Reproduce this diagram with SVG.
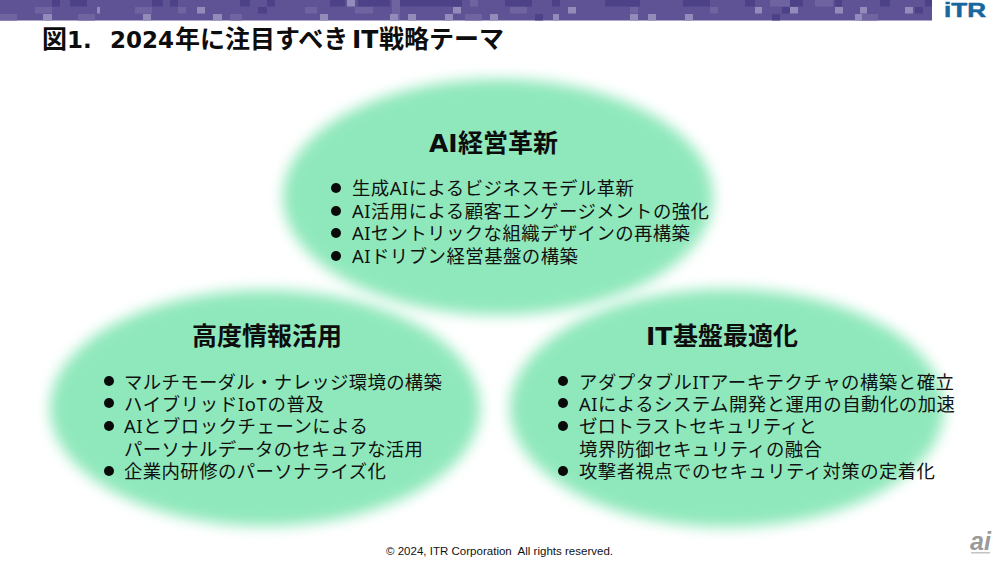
<svg xmlns="http://www.w3.org/2000/svg" width="1000" height="562" viewBox="0 0 1000 562">
<style>
text{font-family:"Noto Sans","Noto Sans CJK JP",sans-serif;fill:#000}
.t{font-family:"DejaVu Sans","Noto Sans CJK JP",sans-serif;font-weight:700;fill:#0d0d0d;font-size:25px}
.h{font-size:25px;font-weight:700;font-family:"DejaVu Sans","Noto Sans CJK JP",sans-serif;fill:#0d0d0d}
.i{font-size:18.4px;font-family:"Noto Sans","Noto Sans CJK JP",sans-serif;fill:#111}
.e{fill:#8fe8bb;filter:url(#b)}
.d{fill:#4d4287}.l{fill:#938cba}.m{fill:#6f649f}
.bu{fill:#0a0a0a}
</style>
<defs><filter id="b" x="-10%" y="-15%" width="120%" height="130%"><feGaussianBlur stdDeviation="7"/></filter></defs>
<rect width="1000" height="562" fill="#fff"/>
<g id="banner">
<rect width="932" height="20.5" fill="#5f5396"/>
<g class="d">
<rect x="52" y="0" width="8" height="6.5"/><rect x="70" y="0" width="17" height="6.5"/><rect x="152" y="0" width="11" height="6.5"/><rect x="170" y="0" width="8" height="6.5"/><rect x="240" y="0" width="10" height="6.5"/><rect x="267" y="0" width="8" height="6.5"/><rect x="330" y="0" width="15" height="6.5"/><rect x="358" y="0" width="32" height="6.5"/><rect x="400" y="0" width="62" height="6.5"/><rect x="505" y="0" width="27" height="6.5"/><rect x="552" y="0" width="8" height="6.5"/><rect x="605" y="0" width="35" height="6.5"/><rect x="683" y="0" width="27" height="6.5"/><rect x="745" y="0" width="10" height="6.5"/><rect x="790" y="0" width="13" height="6.5"/><rect x="835" y="0" width="7" height="6.5"/><rect x="880" y="0" width="10" height="6.5"/><rect x="925" y="0" width="7" height="6.5"/>
<rect x="258" y="7" width="9" height="6.5"/><rect x="772" y="14" width="8" height="6.5"/><rect x="535" y="14" width="8" height="6.5"/><rect x="782" y="7" width="8" height="6.5"/><rect x="915" y="7" width="8" height="6.5"/>
</g>
<g class="m">
<rect x="0" y="14" width="17" height="6.5"/><rect x="35" y="7" width="17" height="6.5"/><rect x="78" y="14" width="17" height="6.5"/><rect x="135" y="7" width="17" height="6.5"/><rect x="178" y="7" width="8" height="6.5"/><rect x="230" y="14" width="12" height="6.5"/><rect x="305" y="7" width="12" height="6.5"/><rect x="355" y="7" width="18" height="6.5"/><rect x="392" y="0" width="8" height="20"/><rect x="470" y="0" width="8" height="6.5"/><rect x="465" y="14" width="17" height="6.5"/><rect x="510" y="7" width="17" height="6.5"/><rect x="630" y="7" width="8" height="6.5"/><rect x="710" y="7" width="8" height="6.5"/><rect x="770" y="0" width="20" height="6.5"/><rect x="815" y="0" width="18" height="6.5"/><rect x="860" y="14" width="18" height="6.5"/>
</g>
<g class="l">
<rect x="347" y="0" width="8" height="6.5"/><rect x="97" y="7" width="3" height="6.5"/><rect x="197" y="7" width="8" height="6.5"/><rect x="43" y="14" width="9" height="6.5"/><rect x="143" y="14" width="8" height="6.5"/><rect x="213" y="14" width="9" height="6.5"/><rect x="320" y="14" width="8" height="6.5"/><rect x="390" y="14" width="8" height="6.5"/><rect x="408" y="14" width="8" height="6.5"/><rect x="445" y="14" width="8" height="6.5"/><rect x="453" y="7" width="8" height="6.5"/><rect x="490" y="14" width="8" height="6.5"/><rect x="568" y="7" width="8" height="6.5"/><rect x="755" y="7" width="7" height="6.5"/><rect x="790" y="7" width="8" height="6.5"/><rect x="835" y="7" width="8" height="6.5"/><rect x="860" y="7" width="7" height="6.5"/><rect x="905" y="7" width="8" height="6.5"/><rect x="553" y="14" width="6" height="6.5"/><rect x="630" y="14" width="8" height="6.5"/><rect x="648" y="14" width="8" height="6.5"/><rect x="685" y="14" width="8" height="6.5"/><rect x="855" y="14" width="7" height="6.5"/>
</g>
</g>
<g id="logo"><text x="944" y="17" style="font-family:'Liberation Sans',sans-serif;font-weight:700;font-size:20px;fill:#17679f;stroke:#17679f;stroke-width:.5" textLength="42" lengthAdjust="spacingAndGlyphs">iTR</text></g>
<text id="title" class="t" y="48"><tspan x="42">図</tspan><tspan x="67" font-size="23">1.</tspan><tspan x="110" font-size="23">2024</tspan><tspan x="175">年に注目すべき</tspan><tspan x="352">IT</tspan><tspan x="379">戦略テーマ</tspan></text>
<g id="shapes">
<ellipse class="e" cx="265" cy="408" rx="215" ry="118"/>
<ellipse class="e" cx="727" cy="408" rx="217" ry="119"/>
<ellipse class="e" cx="498" cy="197" rx="215" ry="118"/>
</g>
<g id="node-top">
<text class="h" y="152"><tspan x="429">AI</tspan><tspan x="458">経営革新</tspan></text>
<circle class="bu" cx="336" cy="188" r="5"/><text class="i" x="352" y="195" textLength="282" lengthAdjust="spacing">生成AIによるビジネスモデル革新</text>
<circle class="bu" cx="336" cy="211" r="5"/><text class="i" x="352" y="218" textLength="357" lengthAdjust="spacing">AI活用による顧客エンゲージメントの強化</text>
<circle class="bu" cx="336" cy="233" r="5"/><text class="i" x="352" y="240" textLength="338" lengthAdjust="spacing">AIセントリックな組織デザインの再構築</text>
<circle class="bu" cx="336" cy="256" r="5"/><text class="i" x="352" y="263" textLength="226" lengthAdjust="spacing">AIドリブン経営基盤の構築</text>
</g>
<g id="node-left">
<text class="h" x="192" y="345">高度情報活用</text>
<circle class="bu" cx="109" cy="381" r="5"/><text class="i" x="124" y="389" textLength="318" lengthAdjust="spacing">マルチモーダル・ナレッジ環境の構築</text>
<circle class="bu" cx="109" cy="403" r="5"/><text class="i" x="124" y="411" textLength="200" lengthAdjust="spacing">ハイブリッドIoTの普及</text>
<circle class="bu" cx="109" cy="426" r="5"/><text class="i" x="124" y="433" textLength="244" lengthAdjust="spacing">AIとブロックチェーンによる</text>
<text class="i" x="124" y="456" textLength="299" lengthAdjust="spacing">パーソナルデータのセキュアな活用</text>
<circle class="bu" cx="109" cy="471" r="5"/><text class="i" x="124" y="478" textLength="262" lengthAdjust="spacing">企業内研修のパーソナライズ化</text>
</g>
<g id="node-right">
<text class="h" y="345"><tspan x="646">IT</tspan><tspan x="673">基盤最適化</tspan></text>
<circle class="bu" cx="563" cy="381" r="5"/><text class="i" x="579" y="389" textLength="375" lengthAdjust="spacing">アダプタブルITアーキテクチャの構築と確立</text>
<circle class="bu" cx="563" cy="403" r="5"/><text class="i" x="579" y="411" textLength="376" lengthAdjust="spacing">AIによるシステム開発と運用の自動化の加速</text>
<circle class="bu" cx="563" cy="426" r="5"/><text class="i" x="579" y="433" textLength="238" lengthAdjust="spacing">ゼロトラストセキュリティと</text>
<text class="i" x="579" y="456" textLength="243" lengthAdjust="spacing">境界防御セキュリティの融合</text>
<circle class="bu" cx="563" cy="471" r="5"/><text class="i" x="579" y="478" textLength="356" lengthAdjust="spacing">攻撃者視点でのセキュリティ対策の定着化</text>
</g>
<text id="copyright" x="386" y="555" style="font-family:'Liberation Sans',sans-serif;font-size:11.5px;fill:#111" textLength="227" xml:space="preserve">© 2024, ITR Corporation  All rights reserved.</text>
<g id="ai-mark"><text x="970" y="550" style="font-family:'Liberation Sans',sans-serif;font-style:italic;font-weight:700;font-size:25px;fill:#9a9a9a">ai</text><rect x="971" y="552" width="19" height="1.5" fill="#c4c4c4"/></g>
</svg>
